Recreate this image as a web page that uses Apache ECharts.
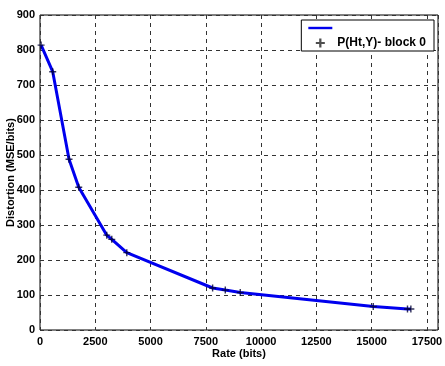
<!DOCTYPE html>
<html><head><meta charset="utf-8">
<script src="https://cdn.jsdelivr.net/npm/echarts@6/dist/echarts.min.js"></script>
<style>html,body{margin:0;padding:0;background:#fff}#c{width:445px;height:366px}</style>
</head><body><div id="c"></div>
<script>
const rate = [50, 575, 1313, 1752, 3020, 3246, 3925, 7807, 8380, 9057, 15072, 16620, 16773];
const distortion = [814, 738, 488, 408, 271, 259, 221, 120, 114, 107, 67, 60, 60];
const seriesName = 'P(Ht,Y)- block 0';
const xTicks = [0, 2500, 5000, 7500, 10000, 12500, 15000, 17500];
const yTicks = [0, 100, 200, 300, 400, 500, 600, 700, 800, 900];

const pts = rate.map((r, i) => [r, distortion[i]]);
const plus = 'path://M4,0L6,0L6,4L10,4L10,6L6,6L6,10L4,10L4,6L0,6L0,4L4,4Z';
const lab = {color:'#000', fontFamily:'Liberation Sans, Arial', fontWeight:'bold', fontSize:11};
const chart = echarts.init(document.getElementById('c'));
chart.setOption({
  animation:false,
  grid:{left:40, right:7, top:15, bottom:36, show:true, borderColor:'#000', borderWidth:1,
    containLabel:false, outerBoundsMode:'none'},
  xAxis:{type:'value', min:0, max:18000, interval:2500,
    name:'Rate (bits)', nameLocation:'middle', nameGap:18, nameMoveOverlap:false, nameTextStyle:lab,
    axisLine:{show:false}, axisTick:{show:false},
    axisLabel:Object.assign({margin:6, showMaxLabel:false,
      formatter:v => xTicks.includes(v) ? String(v) : ''}, lab),
    splitLine:{show:true, lineStyle:{type:[4,4], color:'#333', width:1}}},
  yAxis:{type:'value', min:0, max:900, interval:100,
    name:'Distortion (MSE/bits)', nameLocation:'middle', nameGap:24, nameMoveOverlap:false, nameTextStyle:lab,
    axisLine:{show:false}, axisTick:{show:false},
    axisLabel:Object.assign({margin:5, formatter:v => yTicks.includes(v) ? String(v) : ''}, lab),
    splitLine:{show:true, lineStyle:{type:[4,4], color:'#333', width:1}}},
  legend:{orient:'vertical', right:11, top:20, padding:[1,8,1,7], itemGap:1,
    itemWidth:24, itemHeight:9, backgroundColor:'#fff', borderColor:'#000', borderWidth:1,
    textStyle:Object.assign({}, lab, {fontSize:12, lineHeight:14}),
    data:[{name:' ', icon:'path://M0,3.5L30,3.5L30,6.5L0,6.5Z', itemStyle:{color:'#0000ee'}},
          {name:seriesName, icon:'path://M14,1L16,1L16,4.2L19,4.2L19,5.8L16,5.8L16,9L14,9L14,5.8L11,5.8L11,4.2L14,4.2Z', itemStyle:{color:'#222'}}]},
  series:[
    {name:' ', type:'line', data:pts, showSymbol:false, lineStyle:{color:'#0000ee', width:3}, itemStyle:{color:'#0000ee'}},
    {name:seriesName, type:'scatter', data:pts, symbol:plus, symbolSize:7, itemStyle:{color:'#000033'}, z:5}
  ]
});
</script></body></html>
